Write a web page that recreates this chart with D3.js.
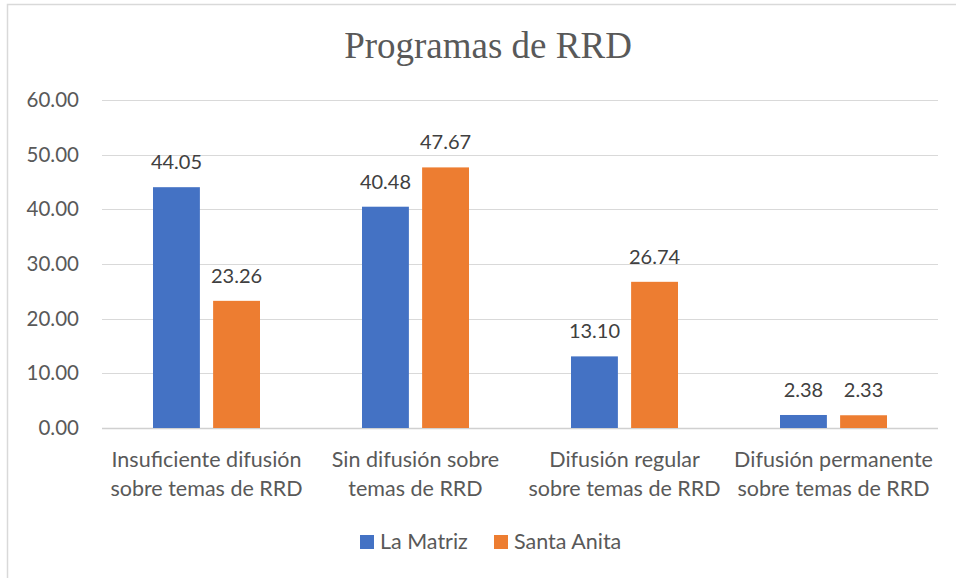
<!DOCTYPE html>
<html>
<head>
<meta charset="utf-8">
<script src="https://cdn.jsdelivr.net/npm/d3@7"></script>
<style>
  body { margin: 0; background: #fff; }
  svg { display: block; }
</style>
</head>
<body>
<div id="chart"></div>
<script>
// Data
var categories = [
  ["Insuficiente difusión", "sobre temas de RRD"],
  ["Sin difusión sobre", "temas de RRD"],
  ["Difusión regular", "sobre temas de RRD"],
  ["Difusión permanente", "sobre temas de RRD"]
];
var seriesNames = ["La Matriz", "Santa Anita"];
var laMatriz = [44.05, 40.48, 13.10, 2.38];
var santaAnita = [23.26, 47.67, 26.74, 2.33];
var yTicks = [0, 10, 20, 30, 40, 50, 60];
var colors = ["#4472c4", "#ed7d31"];

// SVG dimensions
var svg__Width = 956;
var svg__Height = 578;

var chart__Margin = { top: 100, right: 18, bottom: 150, left: 102 };
var chart__Width = svg__Width - chart__Margin.left - chart__Margin.right;
var chart__Height = svg__Height - chart__Margin.top - chart__Margin.bottom;

var labelFont = "Lato, 'Noto Sans', sans-serif";

var svg = d3.select("#chart")
  .append("svg")
  .attr("width", svg__Width)
  .attr("height", svg__Height);

// outer chart border
svg.append("rect")
  .attr("x", 7.5)
  .attr("y", 4.5)
  .attr("width", 960)
  .attr("height", 600)
  .attr("fill", "none")
  .attr("stroke", "#d9d9d9")
  .attr("stroke-width", 1.5);

// title
svg.append("text")
  .attr("x", 488)
  .attr("y", 58)
  .attr("text-anchor", "middle")
  .style("font-family", "'Liberation Serif', 'Times New Roman', serif")
  .style("font-size", "37px")
  .style("fill", "#595959")
  .text("Programas de RRD");

var chart__Group = svg.append("g")
  .attr("transform", `translate(${chart__Margin.left}, ${chart__Margin.top})`);

// scales
var x0 = d3.scaleBand()
  .domain(d3.range(categories.length))
  .range([0, chart__Width]);

var x1 = d3.scaleBand()
  .domain(seriesNames)
  .range([x0.bandwidth() / 2 - 53.5, x0.bandwidth() / 2 + 53.5])
  .paddingInner(0.22);

var y = d3.scaleLinear()
  .domain([0, 60])
  .range([chart__Height, 0]);

// gridlines
chart__Group.selectAll(".grid")
  .data(yTicks)
  .enter()
  .append("line")
  .attr("x1", 0)
  .attr("x2", chart__Width)
  .attr("y1", d => Math.round(y(d)) + 0.5)
  .attr("y2", d => Math.round(y(d)) + 0.5)
  .attr("stroke", d => d === 0 ? "#d0d0d0" : "#d9d9d9")
  .attr("stroke-width", d => d === 0 ? 1.5 : 1.2);

// y axis labels
var left__Axis = d3.axisLeft(y).tickValues(yTicks).tickFormat(d3.format(".2f")).tickSize(0).tickPadding(23);
var yAxis = chart__Group.append("g").call(left__Axis);
yAxis.select(".domain").remove();
yAxis.selectAll("text")
  .style("font-family", labelFont)
  .style("font-size", "20.5px")
  .style("fill", "#595959");

// bars
var rows = categories.map((c, i) => ({ i: i, values: [laMatriz[i], santaAnita[i]] }));

var groups = chart__Group.selectAll(".group")
  .data(rows)
  .enter()
  .append("g")
  .attr("transform", d => `translate(${x0(d.i)},0)`);

groups.selectAll("rect")
  .data(d => d.values.map((v, k) => ({ name: seriesNames[k], value: v, k: k })))
  .enter()
  .append("rect")
  .attr("x", d => x1(d.name))
  .attr("y", d => y(d.value))
  .attr("width", x1.bandwidth())
  .attr("height", d => chart__Height - y(d.value))
  .attr("fill", d => colors[d.k]);

// data labels
groups.selectAll(".lbl")
  .data(d => d.values.map((v, k) => ({ name: seriesNames[k], value: v, k: k })))
  .enter()
  .append("text")
  .attr("x", d => x1(d.name) + x1.bandwidth() / 2)
  .attr("y", d => y(d.value) - 18)
  .attr("text-anchor", "middle")
  .style("font-family", labelFont)
  .style("font-size", "20px")
  .style("fill", "#404040")
  .text(d => d3.format(".2f")(d.value));

// category labels
var catLabels = chart__Group.selectAll(".cat")
  .data(categories)
  .enter()
  .append("text")
  .attr("x", (d, i) => x0(i) + x0.bandwidth() / 2)
  .attr("y", chart__Height + 39)
  .attr("text-anchor", "middle")
  .style("font-family", labelFont)
  .style("font-size", "21.5px")
  .style("fill", "#595959");

catLabels.selectAll("tspan")
  .data(d => d)
  .enter()
  .append("tspan")
  .attr("x", function() { return d3.select(this.parentNode).attr("x"); })
  .attr("dy", (d, j) => j === 0 ? 0 : 28.7)
  .text(d => d);

// legend
var legendX = [360, 494];
var legend = svg.selectAll(".legend")
  .data(seriesNames)
  .enter()
  .append("g")
  .attr("transform", (d, i) => `translate(${legendX[i]}, 535)`);

legend.append("rect")
  .attr("width", 14)
  .attr("height", 14)
  .attr("fill", (d, i) => colors[i]);

legend.append("text")
  .attr("x", 20)
  .attr("y", 14)
  .style("font-family", labelFont)
  .style("font-size", "21.5px")
  .style("fill", "#595959")
  .text(d => d);
</script>
</body>
</html>
